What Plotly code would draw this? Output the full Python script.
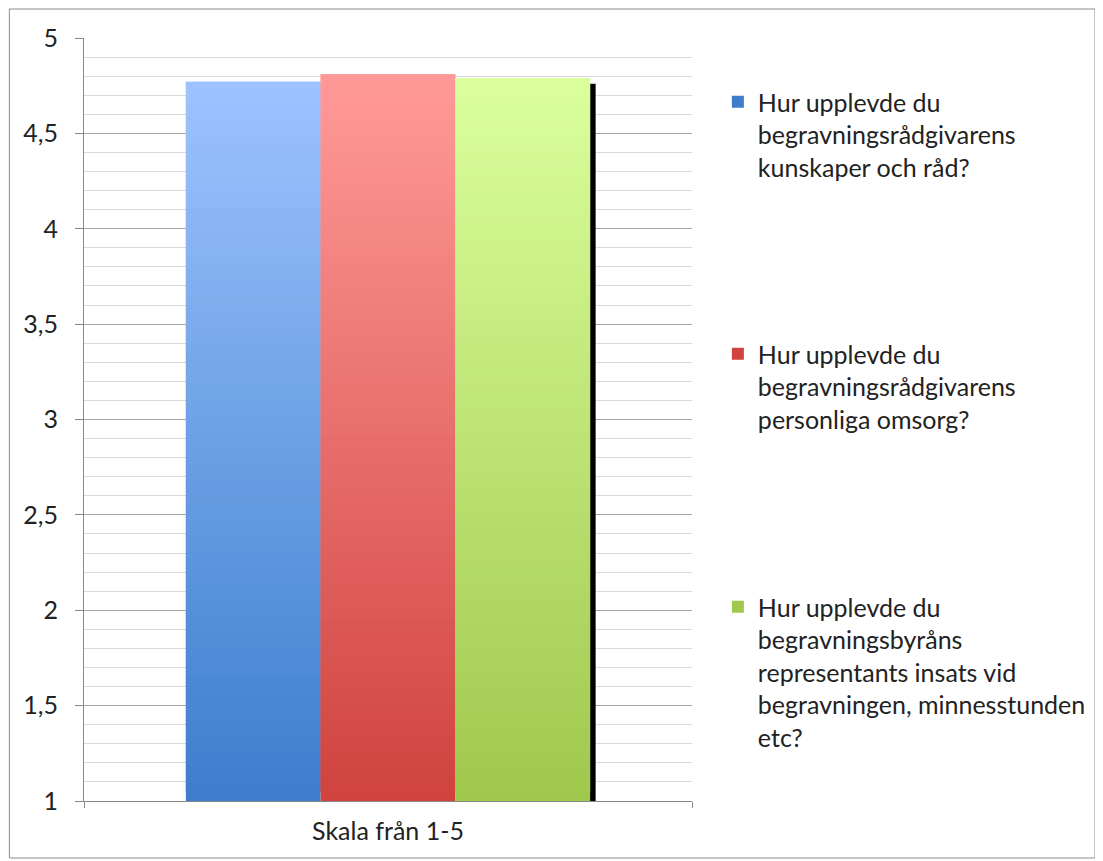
import plotly.graph_objects as go

categories = ["Skala från 1-5"]
series_names = [
    "Hur upplevde du<br>begravningsrådgivarens<br>kunskaper och råd?",
    "Hur upplevde du<br>begravningsrådgivarens<br>personliga omsorg?",
    "Hur upplevde du<br>begravningsbyråns<br>representants insats vid<br>begravningen, minnesstunden<br>etc?",
]
series_values = [4.77, 4.81, 4.79]
# (bottom colour, top colour) of each bar's vertical gradient
series_colors = [
    ((60, 125, 204), (157, 195, 255)),
    ((208, 66, 62), (255, 154, 152)),
    ((160, 200, 76), (218, 255, 157)),
]
y_tickvals = [1, 1.5, 2, 2.5, 3, 3.5, 4, 4.5, 5]

BASE = 1.0
N_SEG = 80
BARGAP = 0.335
FONT = "Lato, 'Open Sans', 'DejaVu Sans', sans-serif"


def lerp(c0, c1, t):
    return "rgb(%d,%d,%d)" % tuple(round(a + (b - a) * t) for a, b in zip(c0, c1))


fig = go.Figure()
legend_ids = ["legend", "legend2", "legend3"]
for i, (name, val, (cb, ct)) in enumerate(zip(series_names, series_values, series_colors)):
    step = (val - BASE) / N_SEG
    bases = [BASE + k * step for k in range(N_SEG)]
    heights = [min(step * 2.0, val - b) for b in bases]
    colors = [lerp(cb, ct, (k + 0.5) / N_SEG) for k in range(N_SEG)]
    fig.add_trace(go.Bar(
        x=categories * N_SEG,
        y=heights,
        base=bases,
        name=name,
        marker=dict(color=colors, line=dict(width=0)),
        offsetgroup=str(i),
        legend=legend_ids[i],
        hoverinfo="skip",
    ))

# shadow at the right of the last bar and below the group
half = (1 - BARGAP) / 2
fig.add_shape(type="rect", xref="x", yref="y",
              x0=half - 0.001, x1=half + 0.009, y0=BASE - 0.012, y1=series_values[-1] - 0.03,
              fillcolor="black", line=dict(width=0), layer="between")
fig.add_shape(type="rect", xref="x", yref="y",
              x0=-half + 0.005, x1=half + 0.009, y0=BASE - 0.014, y1=BASE,
              fillcolor="#222", line=dict(width=0), layer="between")

# the page body has an 8px margin, so the figure is 8px smaller than the window
W, H = 1095, 853
L, R, T, B = 76, 408, 30, 60
pw, ph = W - L - R, H - T - B

# outer chart border
fig.add_shape(type="rect", xref="paper", yref="paper",
              x0=(1 - L) / pw, x1=(1092 - L) / pw,
              y0=(H - B - 850) / ph, y1=(H - B - 1) / ph,
              line=dict(color="#8c8c8c", width=1), fillcolor="rgba(0,0,0,0)")

legend_tops = [71, 323, 576]
for lid, top in zip(legend_ids, legend_tops):
    fig.update_layout({lid: dict(
        x=(713 - L) / pw, xanchor="left",
        y=(H - B - top) / ph, yanchor="top",
        font=dict(family=FONT, size=25, color="#222"),
        bgcolor="rgba(0,0,0,0)", itemwidth=30, itemsizing="constant",
        valign="top", tracegroupgap=0,
    )})

fig.update_layout(
    width=W, height=H,
    margin=dict(l=L, r=R, t=T, b=B),
    paper_bgcolor="white", plot_bgcolor="white",
    barmode="group", bargap=BARGAP, bargroupgap=0,
    separators=", ",
    font=dict(family=FONT, size=25, color="#222"),
    showlegend=True,
    xaxis=dict(
        tickson="boundaries", ticks="outside", ticklen=6, tickcolor="#888",
        showline=True, linecolor="#888", linewidth=1, showgrid=False,
        tickfont=dict(family=FONT, size=25, color="#222"),
        ticklabelstandoff=8,
    ),
    yaxis=dict(
        range=[1, 5], tickvals=y_tickvals, ticks="outside", ticklen=8, tickcolor="#888",
        showline=True, linecolor="#888", linewidth=1,
        showgrid=True, gridcolor="#a6a6a6", gridwidth=1,
        minor=dict(dtick=0.1, showgrid=True, gridcolor="#d9d9d9", gridwidth=1),
        tickfont=dict(family=FONT, size=25, color="#222"),
        zeroline=False, ticklabelstandoff=12,
    ),
)

fig.write_html("out.html")
